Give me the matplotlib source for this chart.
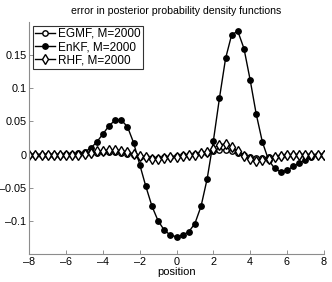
import numpy as np
import matplotlib
matplotlib.use("Agg")
import matplotlib.pyplot as plt

plt.rcParams['font.family'] = ['Liberation Sans', 'DejaVu Sans']

position = np.linspace(-8, 8, 49)

enkf = [0, 0, 0, 0, 0, 0, 0.0005, 0.001, 0.002,
        0.004, 0.0095, 0.019, 0.031, 0.0435, 0.052, 0.052, 0.042, 0.018,
        -0.015, -0.048, -0.078, -0.100, -0.114, -0.1215, -0.124, -0.1215,
        -0.1165, -0.104, -0.078, -0.0365, 0.020, 0.085, 0.145, 0.181, 0.186,
        0.160, 0.113, 0.061, 0.019, -0.008, -0.021, -0.026, -0.024, -0.018,
        -0.013, -0.008, -0.004, -0.001, 0.0]

egmf = [0, 0, 0, 0, 0, 0, 0, 0, 0,
        0.001, 0.002, 0.003, 0.004, 0.004, 0.004, 0.003, 0.001, -0.001,
        -0.003, -0.004, -0.005, -0.005, -0.004, -0.003, -0.002, -0.001,
        0.000, 0.001, 0.002, 0.003, 0.005, 0.007, 0.007, 0.005, 0.002,
        -0.001, -0.004, -0.005, -0.005, -0.004, -0.003, -0.002, -0.001, 0,
        0, 0, 0, 0, 0]

rhf = [0, 0, 0, 0, 0, 0, 0, 0, 0,
       0.001, 0.003, 0.005, 0.006, 0.007, 0.007, 0.006, 0.004, 0.001,
       -0.002, -0.004, -0.006, -0.006, -0.005, -0.004, -0.003, -0.002,
       -0.001, 0.000, 0.002, 0.004, 0.009, 0.015, 0.016, 0.012, 0.005,
       -0.002, -0.007, -0.009, -0.008, -0.006, -0.004, -0.002, -0.001, 0,
       0, 0, 0, 0, 0]

labels = ['EGMF, M=2000', 'EnKF, M=2000', 'RHF, M=2000']
title = 'error in posterior probability density functions'
xticks = [-8, -6, -4, -2, 0, 2, 4, 6, 8]
yticks = [-0.1, -0.05, 0, 0.05, 0.1, 0.15]
yticklabels = ['\u20130.1', '\u20130.05', '0', '0.05', '0.1', '0.15']
xticklabels = ['\u20138', '\u20136', '\u20134', '\u20132', '0', '2', '4', '6', '8']

fig = plt.figure(figsize=(3.32, 2.82), dpi=100)
ax = fig.add_axes([0.0883, 0.0993, 0.8867, 0.8227])

lw = 1.0
ms = 3.9
ax.plot(position, egmf, '-o', color='black', lw=lw, ms=ms, mfc='white', mec='black', mew=1.0, label=labels[0])
ax.plot(position, enkf, '-o', color='black', lw=lw, ms=ms, mfc='black', mec='black', label=labels[1])
ax.plot(position, rhf, '-d', color='black', lw=lw, ms=ms + 0.8, mfc='white', mec='black', mew=1.0, label=labels[2])

ax.set_xlim(-8, 8)
ax.set_ylim(-0.15, 0.2)
ax.set_xticks(xticks)
ax.set_xticklabels(xticklabels)
ax.set_yticks(yticks)
ax.set_yticklabels(yticklabels)
ax.tick_params(direction='in', length=3, width=0.6, labelsize=7.8, color='0.5', pad=2)
for s in ['top', 'right']:
    ax.spines[s].set_visible(False)
for s in ['left', 'bottom']:
    ax.spines[s].set_color('0.55')
    ax.spines[s].set_linewidth(0.8)

ax.set_title(title, fontsize=7.6, pad=6)
ax.set_xlabel('position', fontsize=8, labelpad=0)

leg = ax.legend(loc='upper left', fontsize=8.5, frameon=True, fancybox=False,
                edgecolor='black', handlelength=1.7, handletextpad=0.25,
                borderpad=0.2, labelspacing=0.1, borderaxespad=0.3)
leg.get_frame().set_linewidth(0.8)

fig.savefig('out.png', dpi=100)
